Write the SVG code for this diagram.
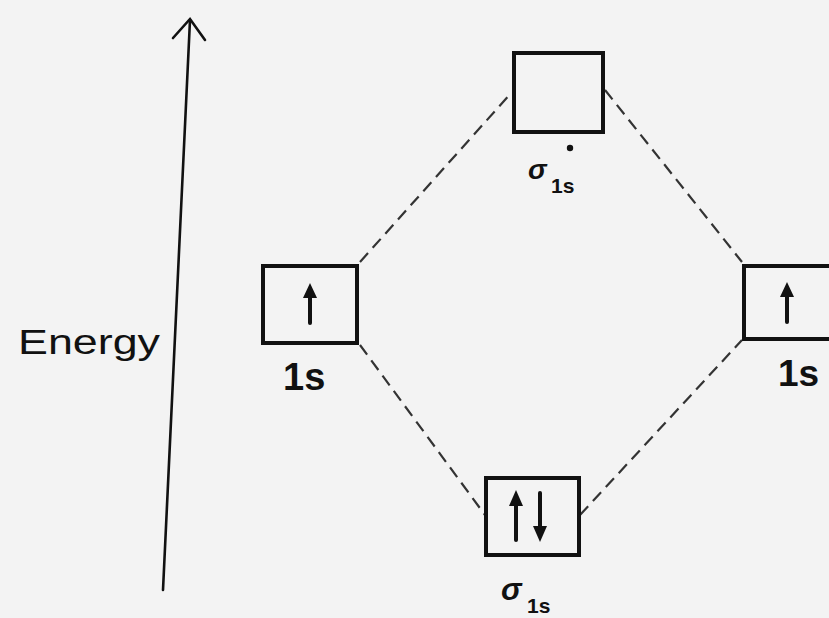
<svg xmlns="http://www.w3.org/2000/svg" width="829" height="618" viewBox="0 0 829 618">
<defs>
<style>
.box{fill:none;stroke:#111;stroke-width:4}
.dash{fill:none;stroke:#333;stroke-width:2.2;stroke-dasharray:12 7}
.spin{fill:none;stroke:#111;stroke-width:4;stroke-linecap:round}
.lbl{font-family:"Liberation Sans",Arial,sans-serif;font-weight:bold;fill:#111}
.ax{fill:none;stroke:#111;stroke-width:2.6;stroke-linecap:round}
</style>
</defs>
<rect width="829" height="618" fill="#f3f3f3"/>
<g id="axis">
<path class="ax" d="M163 590 L190 20"/>
<path class="ax" d="M173 38 L190 19 L205 40"/>
<text x="18" y="354" font-family="Liberation Sans, Arial, sans-serif" font-size="35" fill="#111" textLength="142" lengthAdjust="spacingAndGlyphs">Energy</text>
</g>
<g id="connectors">
<path class="dash" d="M360 262 L512 92"/>
<path class="dash" d="M605 90 L742 262"/>
<path class="dash" d="M360 345 L485 515"/>
<path class="dash" d="M580 515 L742 340"/>
</g>
<g id="sigma-star">
<rect class="box" x="514" y="53" width="89" height="79"/>
<circle cx="570" cy="148" r="3.2" fill="#111"/>
<text class="lbl" x="528" y="179" font-size="28" font-style="italic">σ</text>
<text class="lbl" x="551" y="193" font-size="21">1s</text>
</g>
<g id="left-1s">
<rect class="box" x="263" y="266" width="94" height="77"/>
<path class="spin" d="M310 323 L310 290"/>
<path d="M303 298 L310 283 L317 298 Z" fill="#111"/>
<text class="lbl" x="283" y="390" font-size="38">1s</text>
</g>
<g id="right-1s">
<path class="box" d="M835 266 L744 266 L744 339 L835 339"/>
<path class="spin" d="M787 322 L787 290"/>
<path d="M780 297 L787 282 L794 297 Z" fill="#111"/>
<text class="lbl" x="778" y="386" font-size="37">1s</text>
</g>
<g id="sigma">
<rect class="box" x="486" y="478" width="93" height="77"/>
<path class="spin" d="M516 540 L516 499"/>
<path d="M509 506 L516 490 L523 506 Z" fill="#111"/>
<path class="spin" d="M540 493 L540 532"/>
<path d="M533 526 L540 542 L547 526 Z" fill="#111"/>
<text class="lbl" x="501" y="600" font-size="31" font-style="italic">σ</text>
<text class="lbl" x="527" y="613" font-size="21">1s</text>
</g>
</svg>
